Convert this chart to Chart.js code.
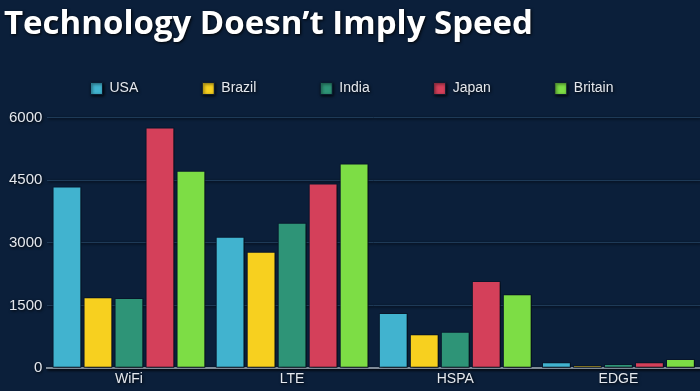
<!DOCTYPE html>
<html>
<head>
<meta charset="utf-8">
<script src="https://cdn.jsdelivr.net/npm/chart.js@4/dist/chart.umd.min.js"></script>
<style>
  html, body { margin: 0; padding: 0; background: #0b1f3a; }
  #wrap { width: 700px; height: 391px; }
</style>
</head>
<body>
<div id="wrap"><canvas id="speed"></canvas></div>
<script>
const categories = ['WiFi', 'LTE', 'HSPA', 'EDGE'];
const countries = ['USA', 'Brazil', 'India', 'Japan', 'Britain'];
const usa = [4350, 3150, 1320, 140];
const brazil = [1700, 2790, 810, 70];
const india = [1680, 3480, 870, 100];
const japan = [5760, 4420, 2090, 140];
const britain = [4730, 4900, 1770, 220];
const yTicks = [0, 1500, 3000, 4500, 6000];

const colors = ['#41b3cf', '#f7d01f', '#2e9477', '#d4405a', '#7ddd45'];
const series = [usa, brazil, india, japan, britain];

// dark outline under the title, like the original
const titleShadow = {
  id: 'titleShadow',
  beforeInit(chart) {
    // legend padding is big for the wide spacing, add a little room below it
    const fit = chart.legend.fit;
    chart.legend.fit = function () {
      fit.call(this);
      this.height += 12;
    };
  },
  beforeDraw(chart) {
    chart.ctx.save();
    chart.ctx.shadowColor = 'rgba(0,0,0,0.9)';
    chart.ctx.shadowBlur = 3;
    chart.ctx.shadowOffsetX = 1;
    chart.ctx.shadowOffsetY = 1;
  },
  afterDraw(chart) {
    chart.ctx.restore();
  }
};

const data = {
  labels: categories,
  datasets: countries.map((name, i) => ({
    label: name,
    data: series[i],
    backgroundColor: colors[i],
    borderColor: '#0a1a30',
    borderWidth: 1,
    borderSkipped: false,
    barPercentage: 0.93,
    categoryPercentage: 0.95
  }))
};

const config = {
  type: 'bar',
  data: data,
  options: {
    responsive: true,
    maintainAspectRatio: false,
    animation: false,
    layout: { padding: { left: 4, right: 0, top: 0, bottom: 0 } },
    plugins: {
      title: {
        display: true,
        text: 'Technology Doesn\u2019t Imply Speed',
        align: 'start',
        color: '#ffffff',
        font: { family: 'Open Sans', size: 33, weight: 'bold' },
        padding: { top: 5, bottom: -27 }
      },
      legend: {
        position: 'top',
        labels: {
          color: '#e4e8ee',
          font: { family: 'Liberation Sans', size: 14 },
          boxWidth: 12,
          boxHeight: 12,
          padding: 64
        }
      },
      tooltip: { enabled: false }
    },
    scales: {
      x: {
        grid: { display: false, drawTicks: false },
        border: { display: true, color: '#7f8b98', width: 2 },
        ticks: { color: '#e4e8ee', font: { family: 'Liberation Sans', size: 14 }, padding: 3 }
      },
      y: {
        min: 0,
        max: 6000,
        afterBuildTicks: axis => { axis.ticks = yTicks.map(v => ({ value: v })); },
        grid: { color: '#1e3a57', drawTicks: false },
        border: { display: false },
        ticks: {
          color: '#e4e8ee',
          font: { family: 'Liberation Sans', size: 15 },
          padding: 5,
          callback: v => String(v)
        }
      }
    }
  },
  plugins: [titleShadow]
};

const ctx = document.getElementById('speed');
const myChart = new Chart(ctx, config);
</script>
</body>
</html>
